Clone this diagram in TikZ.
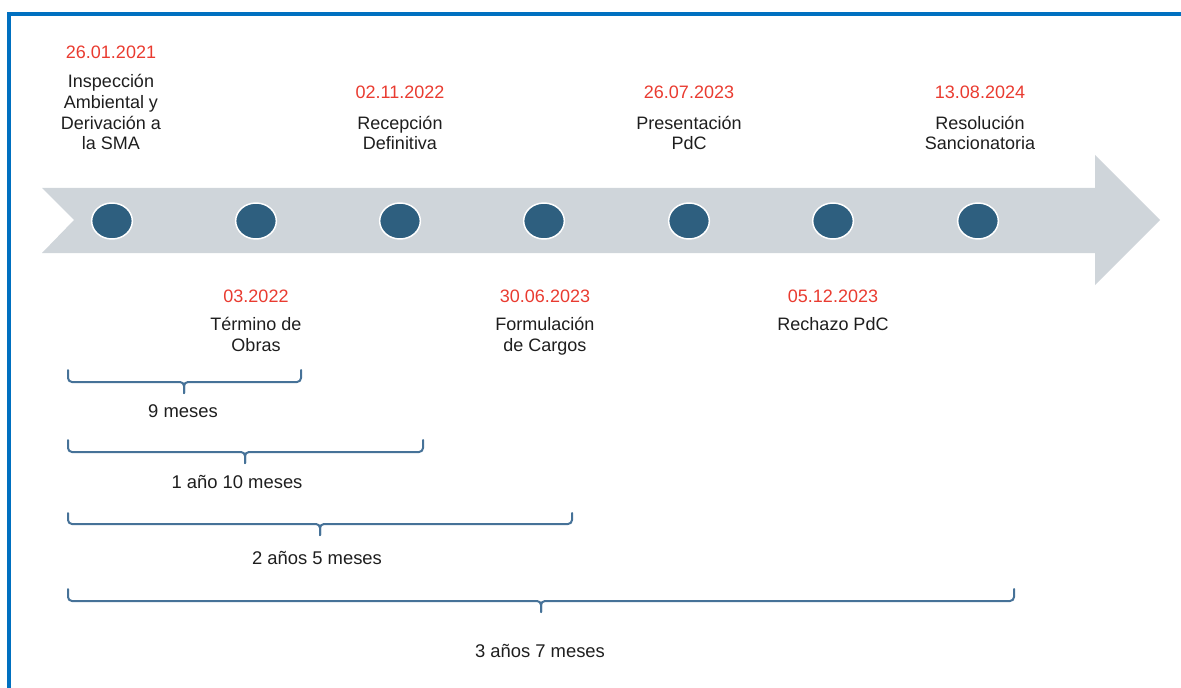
\documentclass[tikz,border=0pt]{standalone}
\usepackage{fontspec}
\setmainfont{Liberation Sans}
\usetikzlibrary{shapes.geometric}
\definecolor{frameblue}{RGB}{0,112,192}
\definecolor{arrowgray}{RGB}{207,213,218}
\definecolor{dotblue}{RGB}{46,95,127}
\definecolor{datered}{RGB}{233,59,48}
\definecolor{bracecol}{RGB}{70,114,152}
\definecolor{txt}{RGB}{30,30,30}
\newcommand{\spanbrace}[6]{%
  \coordinate (#1-l) at (#2,#5);
  \coordinate (#1-r) at (#3,#5);
  \coordinate (#1-m) at (#4,#6);
  \draw[spanline] (#1-l) -- (#2,#6) -- (#4,#6) -- (#4,#6+11);
  \draw[spanline] (#1-r) -- (#3,#6) -- (#4,#6) -- (#4,#6+11);
}
\begin{document}
\begin{tikzpicture}[x=0.75pt,y=-0.75pt,
  datelbl/.style={text=datered,font=\fontsize{13.5}{15.5}\selectfont,inner sep=0pt,anchor=base},
  evlbl/.style={text=txt,font=\fontsize{13.5}{15.5}\selectfont,align=center,inner sep=0pt,anchor=base},
  dot/.style={ellipse,fill=dotblue,draw=white,line width=1.1pt,minimum width=30.5pt,minimum height=27pt,inner sep=0pt},
  spanline/.style={draw=bracecol,line width=1.5pt,rounded corners=3pt,line cap=round},
  durlbl/.style={text=txt,font=\fontsize{13.8}{15.5}\selectfont,inner sep=0pt,anchor=base}]
\path[use as bounding box] (0,0) rectangle (1181,688);
\begin{scope}
\clip (0,0) rectangle (1181,688);
\draw[frameblue,line width=3pt] (9,720) -- (9,14) -- (1220,14);
\end{scope}
% timeline arrow
\fill[arrowgray] (42,188) -- (1095,188) -- (1095,155) -- (1160,220) -- (1095,285) -- (1095,253) -- (42,253) -- (74,220) -- cycle;
% event dots
\node[dot] (e1) at (112,221) {};
\node[dot] (e2) at (256,221) {};
\node[dot] (e3) at (400,221) {};
\node[dot] (e4) at (544,221) {};
\node[dot] (e5) at (689,221) {};
\node[dot] (e6) at (833,221) {};
\node[dot] (e7) at (978,221) {};
% top labels (base anchor = baseline of last line)
\node[datelbl] (d1) at (111,59) {26.01.2021};
\node[evlbl] (t1) at (111,150) {Inspección\\Ambiental y\\Derivación a\\la SMA};
\node[datelbl] (d3) at (400,99) {02.11.2022};
\node[evlbl] (t3) at (400,150) {Recepción\\Definitiva};
\node[datelbl] (d5) at (689,99) {26.07.2023};
\node[evlbl] (t5) at (689,150) {Presentación\\PdC};
\node[datelbl] (d7) at (980,99) {13.08.2024};
\node[evlbl] (t7) at (980,150) {Resolución\\Sancionatoria};
% bottom labels
\node[datelbl] (d2) at (256,302) {03.2022};
\node[evlbl] (t2) at (256,351) {Término de\\Obras};
\node[datelbl] (d4) at (545,302) {30.06.2023};
\node[evlbl] (t4) at (545,351) {Formulación\\de Cargos};
\node[datelbl] (d6) at (833,302) {05.12.2023};
\node[evlbl] (t6) at (833,330) {Rechazo PdC};
% spans
\spanbrace{b1}{68}{301}{184}{370}{382}
\spanbrace{b2}{68}{423}{245}{440}{452}
\spanbrace{b3}{68}{572}{320}{513}{524}
\spanbrace{b4}{68}{1014}{541}{589}{601}
\node[durlbl] (s1) at (183,417) {9 meses};
\node[durlbl] (s2) at (237,488) {1 año 10 meses};
\node[durlbl] (s3) at (317,564) {2 años 5 meses};
\node[durlbl] (s4) at (540,657) {3 años 7 meses};
\end{tikzpicture}
\end{document}
